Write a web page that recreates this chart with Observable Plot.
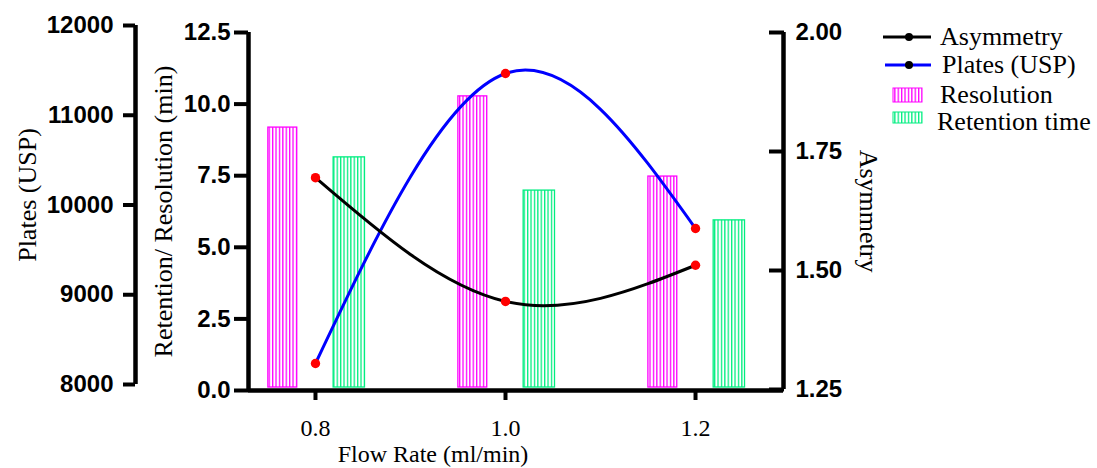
<!DOCTYPE html>
<html><head><meta charset="utf-8">
<script src="https://cdn.jsdelivr.net/npm/d3@7"></script>
<script src="https://cdn.jsdelivr.net/npm/@observablehq/plot@0.6"></script>
<style>
html,body{margin:0;padding:0;background:#fff;overflow:hidden;}
#chart{position:relative;width:1097px;height:468px;}
#chart svg{position:absolute;left:0;top:0;}
</style></head><body>
<svg width="0" height="0" style="position:absolute;left:0;top:0">
<defs>
<pattern id="hatchRes" patternUnits="userSpaceOnUse" width="3.4" height="6">
<rect width="3.4" height="6" fill="#fff"/>
<rect x="0" width="1.3" height="6" fill="#ff00ff"/>
</pattern>
<pattern id="hatchRet" patternUnits="userSpaceOnUse" width="3.4" height="6">
<rect width="3.4" height="6" fill="#fff"/>
<rect x="0" width="1.3" height="6" fill="#00ee80"/>
</pattern>
</defs></svg>
<div id="chart"></div>
<script>
// ---- data ----
const flowRates = [0.8, 1.0, 1.2];
const resolution = [9.18, 10.27, 7.47];
const retentionTime = [8.14, 6.98, 5.94];
const platesUSP = [8234, 11465, 9738];
const asymmetry = [1.695, 1.435, 1.511];

const xTicks = [0.8, 1.0, 1.2];
const leftTicks = [0, 2.5, 5, 7.5, 10, 12.5];
const platesTicks = [8000, 9000, 10000, 11000, 12000];
const asymTicks = [1.25, 1.5, 1.75, 2.0];

// ---- layout / style ----
const W = 1097, H = 468;
const xDomain = [0.7295, 1.2926];
const sans = "'Liberation Sans', Arial, sans-serif";
const serif = "'Liberation Serif', 'Times New Roman', serif";
const magenta = "#ff00ff", green = "#00ee80";

const resRows = flowRates.map((f, i) => ({flow: f, value: resolution[i]}));
const retRows = flowRates.map((f, i) => ({flow: f, value: retentionTime[i]}));
const platesRows = flowRates.map((f, i) => ({flow: f, value: platesUSP[i]}));
const asymRows = flowRates.map((f, i) => ({flow: f, value: asymmetry[i]}));

const resOff = -0.0344, resHalf = 0.0152;
const retOff = 0.0356, retHalf = 0.0165;

const chart = document.getElementById("chart");

// outer Plates axis
const platesAxis = Plot.plot({
  width: W, height: H, marginLeft: 135, marginRight: W - 136, marginTop: 25, marginBottom: H - 384,
  style: {background: "transparent", overflow: "visible"},
  x: {domain: [0, 1], axis: null},
  y: {domain: [8000, 12000]},
  marks: [
    Plot.ruleX([0], {strokeWidth: 4.5}),
    Plot.axisY(platesTicks, {anchor: "left", tickSize: 12, tickPadding: 10, tickFormat: d3.format("d"),
      fontSize: 24, fontWeight: "bold", fontFamily: sans, strokeWidth: 4, label: null}),
    Plot.text(["Plates (USP)"], {frameAnchor: "left", text: d => d, rotate: -90, dx: -108, dy: -10,
      fontSize: 26, fontFamily: serif, textAnchor: "middle", lineAnchor: "middle"})
  ]
});

// main plot: bars, left inner axis, x axis
const main = Plot.plot({
  width: W, height: H, marginLeft: 248, marginRight: W - 783, marginTop: 32, marginBottom: H - 390,
  style: {background: "transparent", overflow: "visible"},
  x: {type: "linear", domain: xDomain},
  y: {domain: [0, 12.5]},
  marks: [
    Plot.rect(resRows, {x1: d => d.flow + resOff - resHalf, x2: d => d.flow + resOff + resHalf,
      y1: 0, y2: "value", fill: "url(#hatchRes)", stroke: magenta, strokeWidth: 1.3, insetBottom: 3}),
    Plot.rect(retRows, {x1: d => d.flow + retOff - retHalf, x2: d => d.flow + retOff + retHalf,
      y1: 0, y2: "value", fill: "url(#hatchRet)", stroke: green, strokeWidth: 1.3, insetBottom: 3}),
    Plot.ruleX([xDomain[0]], {strokeWidth: 4.5}),
    Plot.ruleY([0], {strokeWidth: 4.5}),
    Plot.axisY(leftTicks, {anchor: "left", tickSize: 14, tickPadding: 4, tickFormat: d3.format(".1f"),
      fontSize: 24, fontWeight: "bold", fontFamily: sans, strokeWidth: 4, label: null}),
    Plot.axisX(xTicks, {anchor: "bottom", tickSize: 10, tickPadding: 18, tickFormat: d3.format(".1f"),
      fontSize: 24, fontFamily: serif, strokeWidth: 4, label: null}),
    Plot.text(["Retention/ Resolution (min)"], {frameAnchor: "left", text: d => d, rotate: -90, dx: -85,
      fontSize: 26, fontFamily: serif, textAnchor: "middle", lineAnchor: "middle"}),
    Plot.text(["Flow Rate (ml/min)"], {frameAnchor: "bottom", text: d => d, dx: -83, dy: 64.3,
      fontSize: 24, fontFamily: serif, textAnchor: "middle", lineAnchor: "middle"})
  ]
});

// Plates (USP) line
const platesPlot = Plot.plot({
  width: W, height: H, marginLeft: 248, marginRight: W - 783, marginTop: 25, marginBottom: H - 384,
  style: {background: "transparent", overflow: "visible"},
  x: {domain: xDomain, axis: null},
  y: {domain: [8000, 12000], axis: null},
  marks: [
    Plot.line(platesRows, {x: "flow", y: "value", curve: "natural", stroke: "#0000ff", strokeWidth: 3}),
    Plot.dot(platesRows, {x: "flow", y: "value", r: 4.7, fill: "#ff0000", stroke: "none"})
  ]
});

// Asymmetry line + right axis
const asymPlot = Plot.plot({
  width: W, height: H, marginLeft: 248, marginRight: W - 783, marginTop: 32, marginBottom: H - 389,
  style: {background: "transparent", overflow: "visible"},
  x: {domain: xDomain, axis: null},
  y: {domain: [1.25, 2.0]},
  marks: [
    Plot.ruleX([xDomain[1]], {strokeWidth: 4.5}),
    Plot.axisY(asymTicks, {anchor: "right", tickSize: 15, insetRight: 15, tickPadding: 12,
      tickFormat: d3.format(".2f"), fontSize: 24, fontWeight: "bold", fontFamily: sans, strokeWidth: 4, label: null}),
    Plot.line(asymRows, {x: "flow", y: "value", curve: "natural", stroke: "#000", strokeWidth: 3}),
    Plot.dot(asymRows, {x: "flow", y: "value", r: 4.7, fill: "#ff0000", stroke: "none"}),
    Plot.text(["Asymmetry"], {frameAnchor: "right", text: d => d, rotate: 90, dx: 85,
      fontSize: 26, fontFamily: serif, textAnchor: "middle", lineAnchor: "middle"})
  ]
});

chart.append(platesAxis, main, platesPlot, asymPlot);

// legend
const legendItems = ["Asymmetry", "Plates (USP)", "Resolution", "Retention time"];
const ns = "http://www.w3.org/2000/svg";
const lg = document.createElementNS(ns, "svg");
lg.setAttribute("width", W); lg.setAttribute("height", H);
lg.innerHTML = `
<g font-family="${serif}" font-size="26" fill="#000">
  <line x1="883" x2="931" y1="37" y2="37" stroke="#000" stroke-width="3"/>
  <circle cx="909" cy="37" r="4" fill="#000"/>
  <text x="940" y="45">${legendItems[0]}</text>
  <line x1="885" x2="931" y1="65" y2="65" stroke="#0000ff" stroke-width="3"/>
  <circle cx="909" cy="65" r="4" fill="#000"/>
  <text x="942" y="73">${legendItems[1]}</text>
  <rect x="893" y="88" width="29" height="14" fill="url(#hatchRes)" stroke="${magenta}" stroke-width="1"/>
  <text x="940" y="103">${legendItems[2]}</text>
  <rect x="893" y="112" width="29" height="11" fill="url(#hatchRet)" stroke="${green}" stroke-width="1"/>
  <text x="937" y="130">${legendItems[3]}</text>
</g>`;
chart.append(lg);
</script>
</body></html>
